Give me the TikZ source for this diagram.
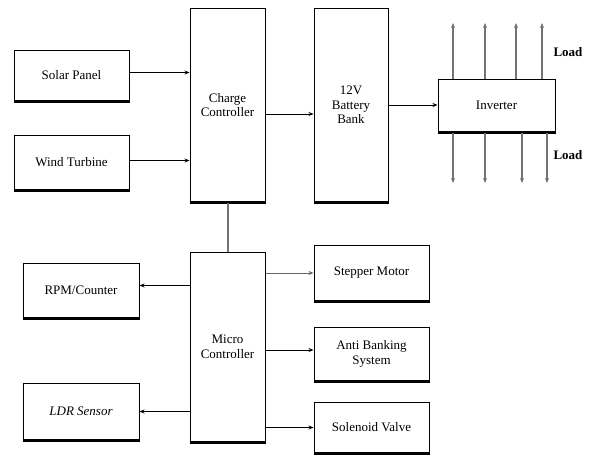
\documentclass[tikz,border=0pt]{standalone}
\usepackage{fontspec}
\setmainfont{Liberation Serif}
\usetikzlibrary{arrows.meta}
\begin{document}
\begin{tikzpicture}[x=1pt,y=-1pt,
  blk/.style={draw=black,line width=1pt,rectangle,inner sep=2pt,align=center,font=\fontsize{13}{14.5}\selectfont},
  arr/.style={-{Stealth[length=5pt,width=4pt]},line width=1pt},
  garr/.style={-{Stealth[length=5pt,width=4pt]},line width=1.6pt,draw=black!55},
  shadow/.style={line width=2.2pt}]
\fill[white] (0,0) rectangle (591,455);
\useasboundingbox (0,0) rectangle (591,455);
\node[blk,minimum width=115pt,minimum height=51pt] (sp) at (71.5,75.5) {Solar Panel};
\node[blk,minimum width=115pt,minimum height=55pt] (wt) at (71.5,162.5) {Wind Turbine};
\node[blk,minimum width=75pt,minimum height=194pt] (cc) at (227.5,105) {Charge\\Controller};
\node[blk,minimum width=74pt,minimum height=194pt] (bb) at (351,105) {12V\\Battery\\Bank};
\node[blk,minimum width=117pt,minimum height=53pt] (inv) at (496.5,105.5) {Inverter};
\node[blk,minimum width=75pt,minimum height=190pt] (mc) at (227.5,347) {Micro\\Controller};
\node[blk,minimum width=116pt,minimum height=55pt] (rpm) at (81,290.5) {RPM/Counter};
\node[blk,minimum width=116pt,minimum height=57pt] (ldr) at (81,411.5) {\itshape LDR Sensor};
\node[blk,minimum width=115pt,minimum height=56pt] (stm) at (371.5,273) {Stepper Motor};
\node[blk,minimum width=115pt,minimum height=54pt] (abs) at (371.5,354) {Anti Banking\\System};
\node[blk,minimum width=115pt,minimum height=51pt] (sv) at (371.5,427.5) {Solenoid Valve};
\foreach \n in {sp,wt,cc,bb,inv,mc,rpm,ldr,stm,abs,sv}
  \draw[shadow] (\n.south west) -- (\n.south east);
% inputs to charge controller
\draw[arr] ([yshift=3pt]sp.east) -- ([yshift=3pt]sp.east -| cc.west);
\draw[arr,line width=0.7pt] ([yshift=2pt]wt.east) -- ([yshift=2pt]wt.east -| cc.west);
\draw[arr] ([yshift=-9pt]cc.east) -- ([yshift=-9pt]cc.east -| bb.west);
\draw[arr] (bb.east) -- (bb.east -| inv.west);
\draw[line width=2pt,draw=black!55] (cc.south) -- (mc.north);
% micro controller outputs
\draw[arr] ([yshift=5pt]rpm.east -| mc.west) -- ([yshift=5pt]rpm.east);
\draw[arr] (ldr.east -| mc.west) -- (ldr.east);
\draw[arr,draw=black!60] (stm.west -| mc.east) -- (stm.west);
\draw[arr] ([yshift=4pt]abs.west -| mc.east) -- ([yshift=4pt]abs.west);
\draw[arr] (sv.west -| mc.east) -- (sv.west);
% inverter loads
\foreach \x/\n in {453/u1,485/u2,516/u3,542/u4}{
  \coordinate (\n) at (\x,23);
  \draw[garr] (\n |- inv.north) -- (\n);}
\foreach \x/\n in {453/d1,485/d2,522/d3,547/d4}{
  \coordinate (\n) at (\x,183);
  \draw[garr] (\n |- inv.south) -- (\n);}
\node[font=\fontsize{13}{14}\selectfont\bfseries] (l1) at (568,52) {Load};
\node[font=\fontsize{13}{14}\selectfont\bfseries] (l2) at (568,155) {Load};
\end{tikzpicture}
\end{document}
